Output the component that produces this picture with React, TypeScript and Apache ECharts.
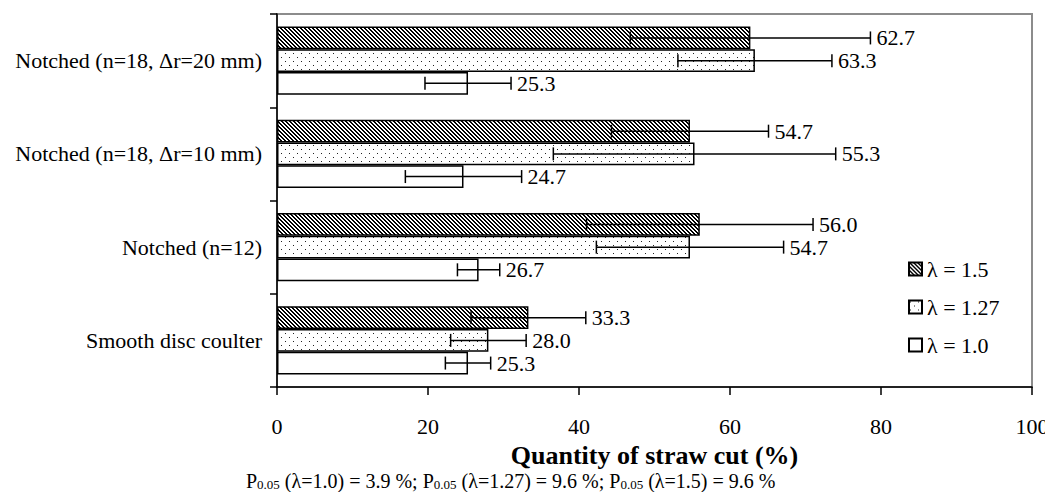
import React, { useEffect, useRef } from "react";
import * as echarts from "echarts";

const categories = [
  "Smooth disc coulter",
  "Notched (n=12)",
  "Notched (n=18, Δr=10 mm)",
  "Notched (n=18, Δr=20 mm)",
];
const seriesNames = ["λ = 1.5", "λ = 1.27", "λ = 1.0"];
const values15 = [33.3, 56.0, 54.7, 62.7];
const values127 = [28.0, 54.7, 55.3, 63.3];
const values10 = [25.3, 26.7, 24.7, 25.3];
const err15 = [7.6, 15.0, 10.4, 15.9];
const err127 = [5.0, 12.4, 18.7, 10.2];
const err10 = [3.0, 2.8, 7.7, 5.7];
const xTickMin = 0;
const xTickMax = 100;
const xTickStep = 20;
const axisTitle = "Quantity of straw cut (%)";

const FONT = "'Liberation Serif', 'Times New Roman', serif";

function makeHatch() {
  const c = document.createElement("canvas");
  c.width = 4;
  c.height = 4;
  const ctx = c.getContext("2d")!;
  ctx.fillStyle = "#fff";
  ctx.fillRect(0, 0, 4, 4);
  ctx.fillStyle = "#000";
  for (let y = 0; y < 4; y++) {
    for (let x = 0; x < 4; x++) {
      if ((x - y + 8) % 4 < 2) ctx.fillRect(x, y, 1, 1);
    }
  }
  return c;
}

function makeDots() {
  const c = document.createElement("canvas");
  c.width = 8;
  c.height = 8;
  const ctx = c.getContext("2d")!;
  ctx.fillStyle = "#fff";
  ctx.fillRect(0, 0, 8, 8);
  ctx.fillStyle = "#222";
  ctx.fillRect(1, 1, 1, 1);
  ctx.fillRect(5, 5, 1, 1);
  return c;
}

export default function App() {
  const ref = useRef<HTMLDivElement>(null);
  useEffect(() => {
    if (!ref.current) return;
    const chart = echarts.init(ref.current, undefined, { renderer: "svg" });
    const hatch = makeHatch();
    const dots = makeDots();
    const fills: any[] = [
      { image: hatch, repeat: "repeat", imageWidth: 4, imageHeight: 4 },
      { image: dots, repeat: "repeat", imageWidth: 8, imageHeight: 8 },
      "#ffffff",
    ];
    const valueSets = [values15, values127, values10];
    const errSets = [err15, err127, err10];

    const barSeries = seriesNames.map((name, k) => ({
      name,
      type: "bar",
      data: valueSets[k],
      barGap: "0%",
      barCategoryGap: "27%",
      itemStyle: { color: fills[k], borderColor: "#000", borderWidth: 1.5 },
      z: 2,
    }));

    const errData: number[][] = [];
    seriesNames.forEach((_, k) => {
      valueSets[k].forEach((v, i) => {
        errData.push([v, i, errSets[k][i], k]);
      });
    });

    const errSeries = {
      type: "custom",
      name: "err",
      z: 5,
      clip: false,
      encode: { x: 0, y: 1 },
      data: errData,
      renderItem: (params: any, api: any) => {
        const v = api.value(0);
        const cat = api.value(1);
        const e = api.value(2);
        const k = api.value(3);
        const c = api.coord([0, cat]);
        const band = api.size([0, 1])[1];
        const bh = (band * (1 - 0.27)) / 3;
        const cy = c[1] + (k - 1) * bh;
        const x1 = api.coord([v - e, cat])[0];
        const x2 = api.coord([v + e, cat])[0];
        const cap = 6.5;
        const ls = { stroke: "#000", lineWidth: 1.5 };
        return {
          type: "group",
          children: [
            { type: "line", shape: { x1, y1: cy, x2, y2: cy }, style: ls },
            { type: "line", shape: { x1, y1: cy - cap, x2: x1, y2: cy + cap }, style: ls },
            { type: "line", shape: { x1: x2, y1: cy - cap, x2, y2: cy + cap }, style: ls },
            {
              type: "text",
              x: x2 + 6,
              y: cy,
              style: {
                text: v.toFixed(1),
                fill: "#000",
                font: `22px ${FONT}`,
                align: "left",
                verticalAlign: "middle",
              },
            },
          ],
        };
      },
    };

    chart.setOption({
      animation: false,
      backgroundColor: "#fff",
      textStyle: { fontFamily: FONT, color: "#000" },
      grid: {
        left: 277,
        right: 13,
        top: 14,
        bottom: 105,
        show: true,
        borderColor: "#8c8c8c",
        borderWidth: 2,
        backgroundColor: "transparent",
        containLabel: false,
        outerBoundsMode: "none",
      },
      legend: {
        data: seriesNames,
        orient: "vertical",
        left: 903,
        top: 253,
        itemWidth: 13,
        itemHeight: 13,
        itemGap: 16,
        icon: "rect",
        textStyle: { fontSize: 22, fontFamily: FONT, color: "#000" },
      },
      xAxis: {
        type: "value",
        min: xTickMin,
        max: xTickMax,
        interval: xTickStep,
        splitLine: { show: false },
        axisLine: { show: true, lineStyle: { color: "#000", width: 1.5 } },
        axisTick: { show: true, length: 8, inside: false, lineStyle: { color: "#000", width: 1.5 } },
        axisLabel: { fontSize: 22, fontFamily: FONT, color: "#000", margin: 28 },
        name: axisTitle,
        nameLocation: "middle",
        nameGap: 55,
        nameTextStyle: { fontSize: 26, fontWeight: "bold", fontFamily: FONT, color: "#000" },
      },
      yAxis: {
        type: "category",
        data: categories,
        axisLine: { show: true, lineStyle: { color: "#000", width: 1.5 } },
        axisTick: { show: true, length: 7, inside: false, lineStyle: { color: "#000", width: 1.5 } },
        axisLabel: { fontSize: 22, fontFamily: FONT, color: "#000", margin: 15, interval: 0 },
        splitLine: { show: false },
      },
      graphic: [
        {
          type: "text",
          left: 246,
          top: 471,
          style: {
            text:
              "{a|P}{s|0.05}{a| (λ=1.0) = 3.9 %; P}{s|0.05}{a| (λ=1.27) = 9.6 %; P}{s|0.05}{a| (λ=1.5) = 9.6 %}",
            rich: {
              a: { fontSize: 20, fontFamily: FONT, fill: "#000", lineHeight: 19, verticalAlign: "bottom" },
              s: { fontSize: 13, fontFamily: FONT, fill: "#000", lineHeight: 12, verticalAlign: "bottom" },
            },
          },
        },
      ],
      series: [...barSeries, errSeries],
    });
    return () => chart.dispose();
  }, []);
  return (
    <div
      ref={ref}
      style={{ position: "fixed", left: 0, top: 0, width: 1045, height: 492 }}
    />
  );
}
